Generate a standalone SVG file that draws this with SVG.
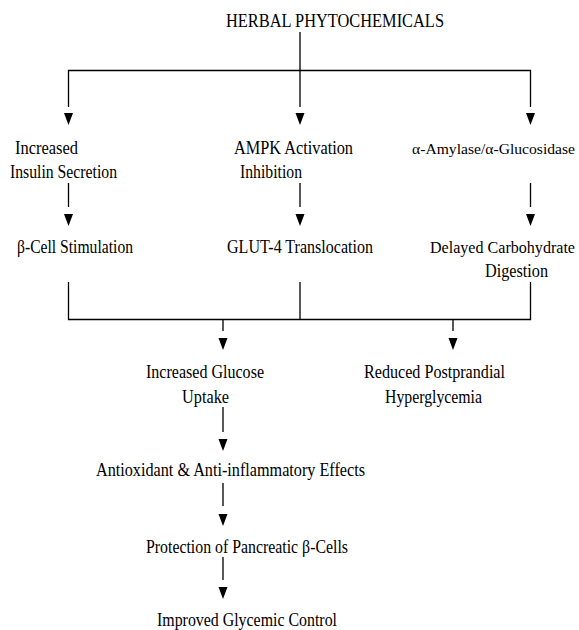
<svg xmlns="http://www.w3.org/2000/svg" xmlns:xlink="http://www.w3.org/1999/xlink" width="579" height="630" viewBox="0 0 579 630">
<style>
text{font-family:"Liberation Serif","Times New Roman",serif;font-size:18px;fill:#000}
text.sm{font-size:16.5px}
text.xs{font-size:15.5px}
.ln{stroke:#000;stroke-width:1.3;fill:none}
</style>
<defs>
<path id="ah" d="M-4.5,0 L4.5,0 L0,12 Z" fill="#000"/>
</defs>
<rect width="579" height="630" fill="#fff"/>
<g id="connectors">
<path class="ln" d="M300,32 V107 M68.5,107 V70.5 H530.5 V107"/>
<use xlink:href="#ah" x="68.5" y="113"/>
<use xlink:href="#ah" x="300" y="113"/>
<use xlink:href="#ah" x="530.5" y="113"/>
<path class="ln" d="M68.5,183 V207 M300,183 V207 M530.5,183 V207"/>
<use xlink:href="#ah" x="68.5" y="214"/>
<use xlink:href="#ah" x="300" y="214"/>
<use xlink:href="#ah" x="530.5" y="214"/>
<path class="ln" d="M68.5,282 V319.5 H530.5 V282 M300,282 V319.5 M223,319.5 V331 M453,319.5 V331"/>
<use xlink:href="#ah" x="223" y="338"/>
<use xlink:href="#ah" x="453" y="338"/>
<path class="ln" d="M223,407 V432 M223,483 V506 M223,557 V580"/>
<use xlink:href="#ah" x="223" y="439"/>
<use xlink:href="#ah" x="223" y="514"/>
<use xlink:href="#ah" x="223" y="587"/>
</g>
<g id="n-title"><text x="226" y="27" textLength="218" lengthAdjust="spacingAndGlyphs">HERBAL PHYTOCHEMICALS</text></g>
<g id="n-insulin"><text x="15" y="154" textLength="63" lengthAdjust="spacingAndGlyphs">Increased</text><text x="10" y="178" textLength="107" lengthAdjust="spacingAndGlyphs">Insulin Secretion</text></g>
<g id="n-ampk"><text x="234" y="154" textLength="119" lengthAdjust="spacingAndGlyphs">AMPK Activation</text><text x="240" y="178" textLength="62" lengthAdjust="spacingAndGlyphs">Inhibition</text></g>
<g id="n-amylase"><text class="xs" x="575" y="154" text-anchor="end" textLength="163" lengthAdjust="spacingAndGlyphs">α-Amylase/α-Glucosidase</text></g>
<g id="n-bcell"><text x="17" y="253" textLength="116" lengthAdjust="spacingAndGlyphs">β-Cell Stimulation</text></g>
<g id="n-glut4"><text x="227" y="253" textLength="146" lengthAdjust="spacingAndGlyphs">GLUT-4 Translocation</text></g>
<g id="n-delayed"><text class="sm" x="575" y="253" text-anchor="end" textLength="145" lengthAdjust="spacingAndGlyphs">Delayed Carbohydrate</text><text x="485" y="277" textLength="63" lengthAdjust="spacingAndGlyphs">Digestion</text></g>
<g id="n-glucose"><text x="146" y="378" textLength="118" lengthAdjust="spacingAndGlyphs">Increased Glucose</text><text x="182" y="403" textLength="47" lengthAdjust="spacingAndGlyphs">Uptake</text></g>
<g id="n-postprandial"><text x="364" y="378" textLength="141" lengthAdjust="spacingAndGlyphs">Reduced Postprandial</text><text x="385" y="403" textLength="97" lengthAdjust="spacingAndGlyphs">Hyperglycemia</text></g>
<g id="n-antiox"><text x="96" y="476" textLength="269" lengthAdjust="spacingAndGlyphs">Antioxidant &amp; Anti-inflammatory Effects</text></g>
<g id="n-protect"><text x="146" y="553" textLength="202" lengthAdjust="spacingAndGlyphs">Protection of Pancreatic β-Cells</text></g>
<g id="n-control"><text x="157" y="626" textLength="180" lengthAdjust="spacingAndGlyphs">Improved Glycemic Control</text></g>
</svg>
